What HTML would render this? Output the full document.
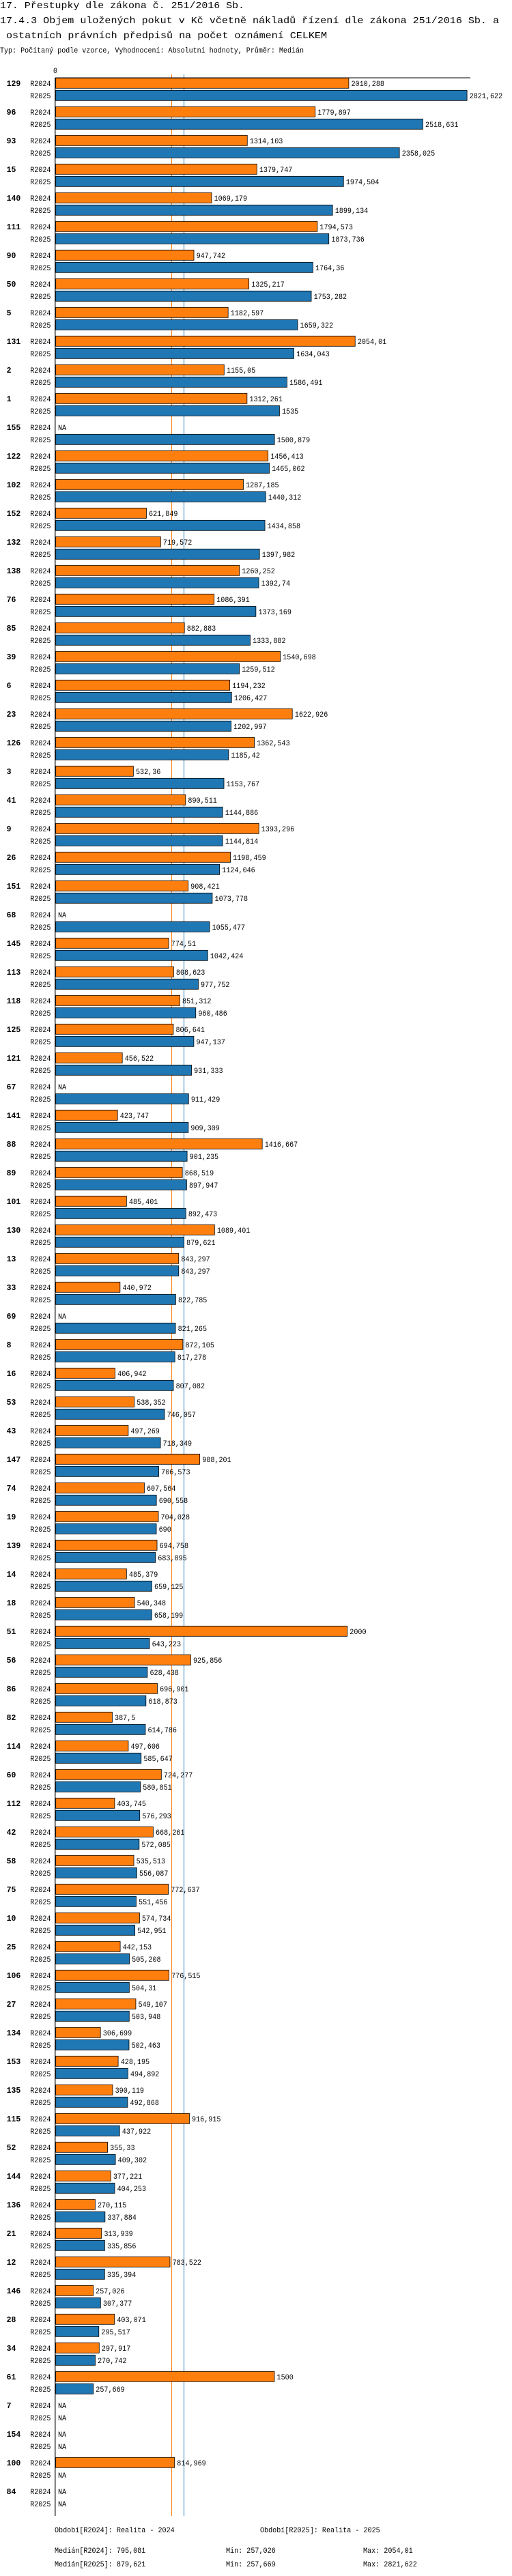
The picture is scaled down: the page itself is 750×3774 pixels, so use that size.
<!DOCTYPE html>
<html><head><meta charset="utf-8">
<style>
html,body{margin:0;padding:0;background:#fff;}
svg{display:block;}
text{font-family:"Liberation Mono","DejaVu Sans Mono",monospace;fill:#000;}
</style></head>
<body>
<svg id="chart" width="750" height="3774" viewBox="0 0 750 3774" xmlns="http://www.w3.org/2000/svg">
<text x="0" y="12" font-size="14" textLength="358" lengthAdjust="spacingAndGlyphs">17. Přestupky dle zákona č. 251/2016 Sb.</text>
<text x="0" y="34" font-size="14" textLength="731" lengthAdjust="spacingAndGlyphs">17.4.3 Objem uložených pokut v Kč včetně nákladů řízení dle zákona 251/2016 Sb. a</text>
<text x="9" y="56" font-size="14" textLength="470" lengthAdjust="spacingAndGlyphs">ostatních právních předpisů na počet oznámení CELKEM</text>
<text x="0" y="77" font-size="11" textLength="445" lengthAdjust="spacingAndGlyphs">Typ: Počítaný podle vzorce, Vyhodnocení: Absolutní hodnoty, Průměr: Medián</text>
<g id="plot"></g>
</svg>
<script>
const categories = ["129","96","93","15","140","111","90","50","5","131","2","1","155","122","102","152","132","138","76","85","39","6","23","126","3","41","9","26","151","68","145","113","118","125","121","67","141","88","89","101","130","13","33","69","8","16","53","43","147","74","19","139","14","18","51","56","86","82","114","60","112","42","58","75","10","25","106","27","134","153","135","115","52","144","136","21","12","146","28","34","61","7","154","100","84"];
const values2024 = [2010.288,1779.897,1314.103,1379.747,1069.179,1794.573,947.742,1325.217,1182.597,2054.01,1155.05,1312.261,null,1456.413,1287.185,621.849,719.572,1260.252,1086.391,882.883,1540.698,1194.232,1622.926,1362.543,532.36,890.511,1393.296,1198.459,908.421,null,774.51,808.623,851.312,806.641,456.522,null,423.747,1416.667,868.519,485.401,1089.401,843.297,440.972,null,872.105,406.942,538.352,497.269,988.201,607.564,704.028,694.758,485.379,540.348,2000,925.856,696.901,387.5,497.606,724.277,403.745,668.261,535.513,772.637,574.734,442.153,776.515,549.107,306.699,428.195,390.119,916.915,355.33,377.221,270.115,313.939,783.522,257.026,403.071,297.917,1500,null,null,814.969,null];
const values2025 = [2821.622,2518.631,2358.025,1974.504,1899.134,1873.736,1764.36,1753.282,1659.322,1634.043,1586.491,1535,1500.879,1465.062,1440.312,1434.858,1397.982,1392.74,1373.169,1333.882,1259.512,1206.427,1202.997,1185.42,1153.767,1144.886,1144.814,1124.046,1073.778,1055.477,1042.424,977.752,960.486,947.137,931.333,911.429,909.309,901.235,897.947,892.473,879.621,843.297,822.785,821.265,817.278,807.082,746.057,718.349,706.573,690.558,690,683.895,659.125,658.199,643.223,628.438,618.873,614.786,585.647,580.851,576.293,572.085,556.087,551.456,542.951,505.208,504.31,503.948,502.463,494.892,492.868,437.922,409.302,404.253,337.884,335.856,335.394,307.377,295.517,270.742,257.669,null,null,null,null];
const seriesNames = ["R2024","R2025"];
const medians = [795.081,879.621];
const mins = [257.026,257.669];
const maxs = [2054.01,2821.622];
const periodLabels = ["Období[R2024]: Realita - 2024","Období[R2025]: Realita - 2025"];

const NS = "http://www.w3.org/2000/svg";
const plot = document.getElementById('plot');
const X0 = 81.7, X1 = 684.1;
const domainMax = Math.max(...values2025.filter(v=>v!=null), ...values2024.filter(v=>v!=null));
function xScale(v){ return X0 + v/domainMax*(X1-X0); }
const TOP = 114, GROUP = 42, BAR_H = 15;
function yBar(i, s){ return TOP + 0.3 + i*GROUP + s*18; }
const colors = ["#ff7f0e","#1f77b4"];
const CW = 6.06;
function fmt(v){ return String(v).replace('.', ','); }
function mk(tag, attrs, txt){
  const e = document.createElementNS(NS, tag);
  for (const k in attrs) e.setAttribute(k, attrs[k]);
  if (txt != null) e.textContent = txt;
  plot.appendChild(e);
  return e;
}
const bottom = TOP + categories.length*GROUP + 2;

medians.forEach((m, s) => {
  const l = mk('line', {x1:xScale(m), x2:xScale(m), y1:109, y2:bottom, stroke:colors[s], 'stroke-width':1});
  
  
});

const zero = mk('text', {x:78, y:107, 'font-size':11, textLength:6, lengthAdjust:'spacingAndGlyphs'}, '0');


const ax = mk('line', {x1:80.8, x2:689, y1:114, y2:114, stroke:'#000', 'stroke-width':1});


const ay = mk('line', {x1:80.8, x2:80.8, y1:114, y2:bottom, stroke:'#000', 'stroke-width':1.2});



categories.forEach((c, i) => {
  const gl = mk('text', {x:9.6, y:yBar(i,0)+11.5, 'font-size':12, 'font-weight':'bold', textLength:c.length*6.9, lengthAdjust:'spacingAndGlyphs'}, c);
  
  
  [values2024[i], values2025[i]].forEach((v, s) => {
    const yb = yBar(i, s);
    const sl = mk('text', {x:74.5, y:yb+11.5, 'font-size':11, 'text-anchor':'end', textLength:5*CW, lengthAdjust:'spacingAndGlyphs'}, seriesNames[s]);
    
    
    if (v == null) {
      const na = mk('text', {x:85, y:yb+11.5, 'font-size':11, textLength:2*CW, lengthAdjust:'spacingAndGlyphs'}, 'NA');
      
      
      return;
    }
    const r = mk('rect', {x:X0, y:yb, width:xScale(v)-X0, height:BAR_H, fill:colors[s], stroke:'#000', 'stroke-width':0.8});
    
    
    const t = fmt(v);
    const vl = mk('text', {x:xScale(v)+3.6, y:yb+11.5, 'font-size':11, textLength:t.length*CW, lengthAdjust:'spacingAndGlyphs'}, t);
    
    
  });
});

const FY = 3710;
periodLabels.forEach((p, s) => {
  const t = mk('text', {x: s===0 ? 80 : 381, y:FY, 'font-size':11, textLength:p.length*CW, lengthAdjust:'spacingAndGlyphs'}, p);
  
  
});
seriesNames.forEach((n, s) => {
  const y = 3740 + s*20;
  const a = 'Medián[' + n + ']: ' + fmt(medians[s]);
  const b = 'Min: ' + fmt(mins[s]);
  const c2 = 'Max: ' + fmt(maxs[s]);
  const t1 = mk('text', {x:80, y:y, 'font-size':11, textLength:a.length*CW, lengthAdjust:'spacingAndGlyphs'}, a);
  
  
  const t2 = mk('text', {x:331, y:y, 'font-size':11, textLength:b.length*CW, lengthAdjust:'spacingAndGlyphs'}, b);
  
  
  const t3 = mk('text', {x:532, y:y, 'font-size':11, textLength:c2.length*CW, lengthAdjust:'spacingAndGlyphs'}, c2);
  
  
});
</script>
</body></html>
